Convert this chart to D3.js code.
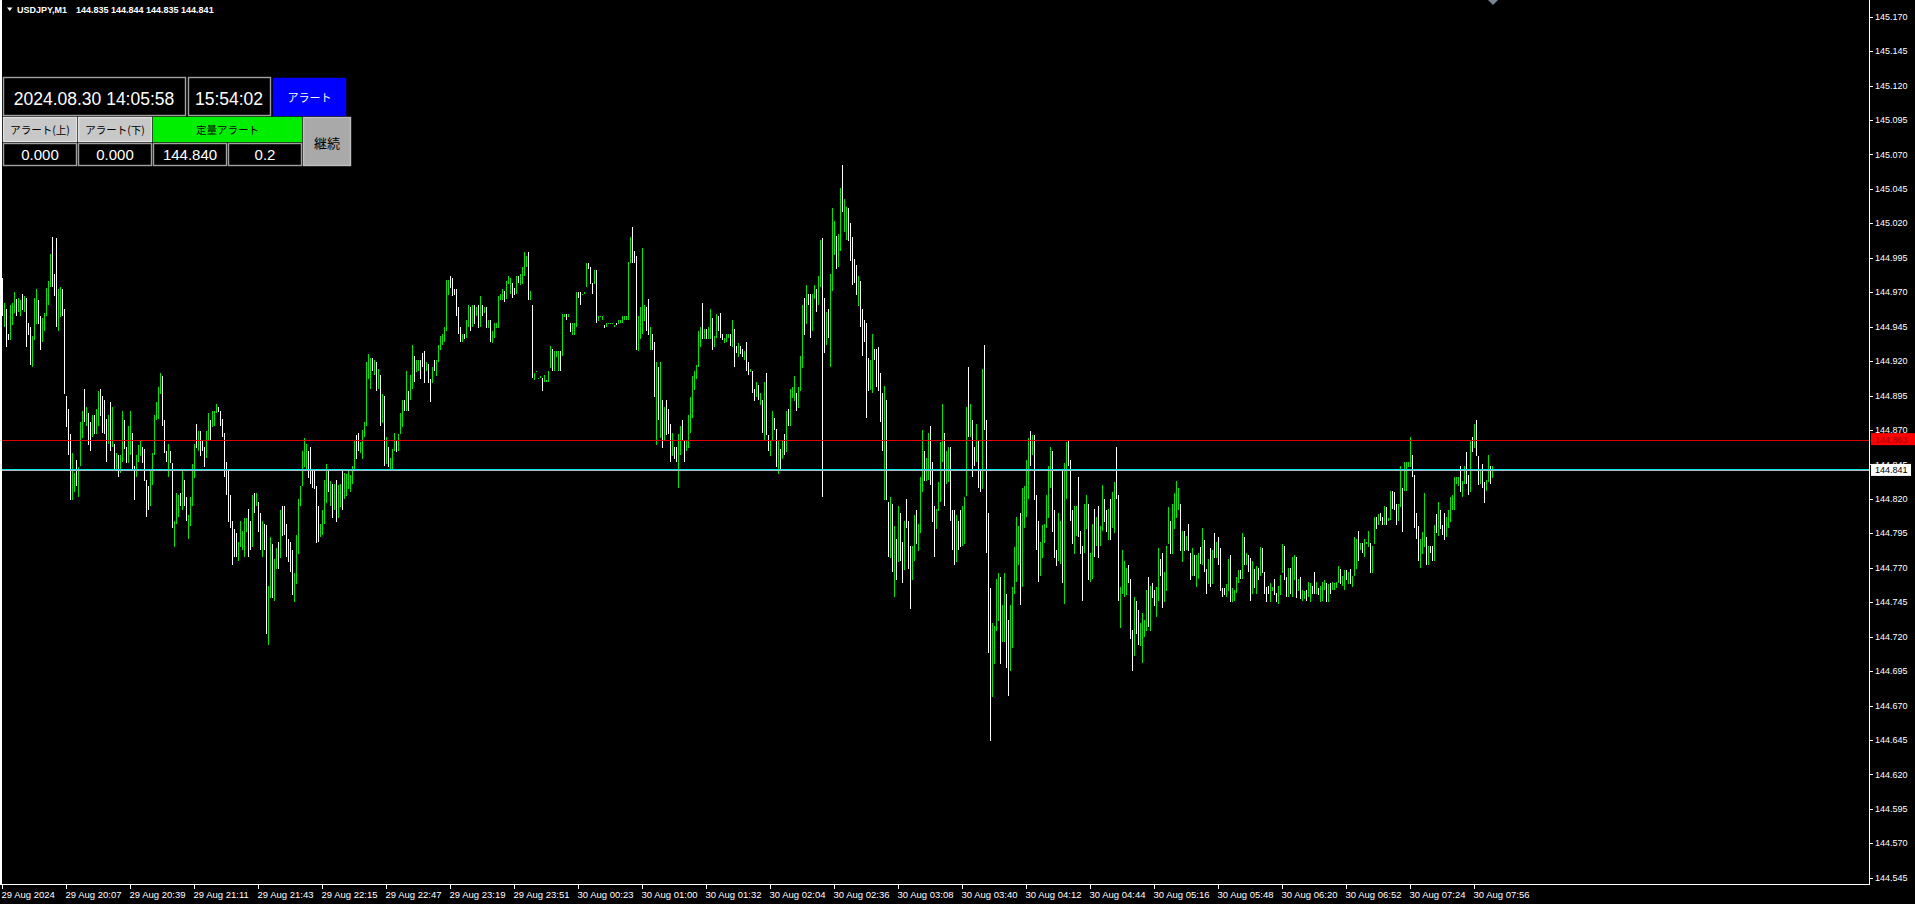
<!DOCTYPE html>
<html>
<head>
<meta charset="utf-8">
<script src="https://cdn.jsdelivr.net/npm/d3@7"></script>
<style>
  html, body { margin: 0; padding: 0; background: #000; overflow: hidden; }
  svg { display: block; }
</style>
</head>
<body>
<div id="chart"></div>
<script>
// ---------------- DATA ----------------
// Price of each M1 bar, written as points above 144.000 (price = 144 + pts / 1000)
const priceBase = 144;
const barHighs = [
  980,962,958,940,961,962,970,965,966,964, 969,967,966,948,945,938,966,972,964,953,
  951,955,973,978,998,1010,983,1009,972,974, 972,958,895,885,867,853,839,848,843,876,
  884,900,887,882,876,881,881,885,898,900, 895,892,878,881,890,887,860,853,852,852,
  884,877,858,873,884,868,844,852,859,863, 858,856,834,829,842,853,881,890,901,911,
  909,877,855,860,855,846,804,824,823,824, 842,834,821,808,821,845,860,874,869,869,
  863,858,869,882,877,884,884,889,887,884, 878,868,847,841,823,804,798,795,789,804,
  797,806,806,813,804,823,824,824,818,810, 804,802,801,757,792,787,776,784,789,812,
  815,815,802,791,789,783,766,794,820,829, 855,864,860,855,858,842,842,829,815,802,
  812,834,845,842,833,831,831,834,830,831, 841,839,838,842,837,844,863,866,868,861,
  870,876,919,925,922,922,921,919,914,910, 896,895,865,858,850,856,868,863,867,882,
  892,892,913,898,910,932,924,921,921,921, 926,927,919,918,907,916,921,921,932,938,
  940,945,979,979,982,980,972,972,959,945, 940,940,950,961,959,961,961,959,961,967,
  961,959,959,950,950,942,948,948,967,969, 972,971,978,982,980,977,973,982,982,983,
  988,999,996,999,971,961,911,913,908,909, 908,910,906,913,931,929,927,927,927,927,
  954,954,954,954,948,948,948,970,970,970, 969,970,991,991,988,977,986,986,953,953,
  953,946,948,948,948,948,946,948,950,950, 953,953,953,992,1010,1017,1000,996,953,959,
  1002,961,959,965,945,940,934,919,916,919, 892,887,892,885,874,868,858,858,867,873,
  877,863,863,881,894,909,913,917,942,945, 962,943,943,945,958,951,938,954,953,955,
  940,937,940,940,940,950,943,931,933,931, 929,927,934,919,914,913,900,905,903,897,
  892,905,911,866,863,884,879,871,863,856, 863,867,884,885,900,901,909,897,901,924,
  961,966,975,969,969,969,975,972,982,1008, 1009,966,956,958,983,1031,1022,1011,1012,1046,
  1062,1038,1032,1031,1020,1010,994,990,982,978, 958,950,948,922,921,940,929,929,930,911,
  897,902,892,818,821,816,800,791,815,810, 789,804,820,804,786,786,808,812,802,836,
  870,855,850,868,873,847,815,813,832,861, 889,868,855,858,858,812,812,808,804,812,
  815,821,887,916,889,877,858,874,862,840, 914,932,877,810,755,730,728,762,766,763,
  743,766,751,732,743,756,785,807,800,810, 828,829,848,864,869,866,866,823,804,789,
  801,802,823,844,858,855,812,783,810,804, 840,846,861,863,848,812,815,815,836,797,
  786,816,823,816,781,802,813,807,815,800, 830,820,812,813,820,825,832,858,823,756,
  783,775,770,772,762,725,749,746,739,730, 737,732,754,763,757,759,754,756,784,776,
  781,767,786,814,804,816,824,833,828,816, 797,797,793,802,781,784,779,779,781,785,
  799,790,769,776,784,783,795,789,792,784, 755,755,758,776,779,755,754,763,768,768,
  795,792,781,779,777,775,769,771,770,785, 784,767,756,757,759,756,762,752,757,765,
  787,786,763,770,770,778,779,778,762,763, 754,753,754,760,759,757,767,760,755,757,
  760,761,759,758,759,760,759,760,771,769, 764,768,768,767,769,764,792,791,797,788,
  788,791,789,797,788,786,807,807,809,810, 807,815,814,806,826,826,825,816,816,844,
  828,847,847,847,865,852,837,810,800,791, 796,824,792,786,786,786,801,809,818,812,
  801,810,807,812,821,823,836,836,836,844, 833,844,854,837,863,865,874,877,851,842,
  845,832,834,852,844,844
];
const barLows = [
  953,945,930,935,935,946,955,953,956,953, 957,956,930,939,917,916,935,947,947,928,
  934,942,953,961,974,974,967,945,942,952, 953,896,872,852,819,819,825,829,821,844,
  864,876,873,859,855,865,867,867,873,880, 868,867,847,860,855,858,841,842,836,839,
  847,856,846,846,852,840,819,836,847,851, 846,833,807,812,815,830,852,877,878,896,
  873,853,847,836,846,799,785,802,807,815, 812,815,804,791,800,815,835,857,855,851,
  855,843,850,862,862,872,873,882,883,873, 865,836,823,803,799,772,778,778,775,785,
  783,778,796,778,783,785,810,815,796,783, 778,783,722,714,748,748,746,769,769,777,
  793,794,778,774,767,750,745,758,780,815, 829,843,842,835,831,828,827,788,789,792,
  794,802,817,825,815,806,812,803,806,814, 812,820,822,827,825,831,841,849,855,853,
  849,865,873,907,900,913,910,898,900,873, 875,844,845,843,841,841,855,854,855,867,
  872,884,884,884,892,900,905,912,913,907, 916,904,913,904,890,904,913,909,919,928,
  932,934,942,968,973,967,968,953,940,934, 934,936,937,945,942,945,947,953,944,945,
  953,955,944,944,934,933,937,944,944,964, 964,963,965,976,969,966,968,969,977,975,
  976,982,988,964,964,908,906,912,907,908, 898,905,905,905,915,913,913,923,913,913,
  924,952,950,952,941,939,939,945,966,961, 968,969,974,987,976,969,976,948,949,952,
  950,944,945,947,947,947,945,946,947,948, 948,950,950,950,991,991,991,928,927,936,
  940,949,942,939,928,928,894,859,877,864, 857,863,866,867,847,851,849,847,828,852,
  862,847,855,857,868,879,899,907,916,930, 936,936,936,936,936,928,930,937,942,937,
  935,933,934,937,931,930,916,926,923,925, 923,921,913,910,912,897,891,894,892,888,
  868,863,866,855,851,862,870,843,838,841, 849,852,854,873,873,893,891,884,886,898,
  915,939,947,961,937,942,965,956,961,974, 821,926,932,937,916,971,997,987,988,1000,
  1028,1014,1008,1007,993,975,977,968,960,945, 924,934,879,898,899,897,921,901,898,876,
  855,819,819,778,777,767,749,761,774,775, 759,768,799,769,740,761,775,787,782,795,
  825,833,833,834,830,803,778,798,811,818, 847,815,831,832,804,783,772,774,783,785,
  786,787,822,865,865,836,844,847,828,825, 827,870,781,708,644,676,700,724,731,700,
  716,716,697,677,695,712,751,760,772,743, 756,799,807,820,844,852,819,783,760,764,
  777,788,799,806,828,796,777,771,775,773, 759,744,820,844,804,787,780,793,792,780,
  746,781,798,761,760,762,778,786,777,786, 797,803,796,790,790,799,795,820,746,726,
  751,749,750,759,718,695,706,722,714,713, 701,720,724,727,724,748,742,734,746,764,
  741,745,753,787,780,780,798,806,812,782, 774,782,783,782,761,764,764,756,762,773,
  772,767,751,758,756,758,777,777,772,753, 749,750,749,753,745,745,746,752,759,762,
  762,772,772,767,746,751,755,751,761,764, 766,751,745,751,745,753,750,745,744,750,
  766,761,749,749,751,749,761,748,753,747, 746,747,746,749,745,751,751,751,750,745,
  746,754,745,745,751,754,754,755,759,758, 757,754,761,758,758,756,764,769,775,783,
  781,778,787,785,766,766,787,798,801,804, 801,801,801,804,805,813,812,801,804,814,
  796,826,826,843,843,836,799,791,775,770, 780,785,772,772,781,775,775,795,793,798,
  794,790,792,799,803,812,812,831,829,825, 821,831,831,823,825,854,857,851,830,831,
  828,817,826,832,831,835
];
// G = up bar (green), W = down bar (white)
const barDirs = (
  "WGWWGGGWGG" + "WGWWWGGGWW" + "GGGGGWWWGG" + "WWWWWGGWGG" + "GWGWWGWGGW" +
  "WWWGWGWGWG" + "GWWGGWWGGG" + "WWWWGGGGGG" + "WWWGWWGGGW" + "GWWGGGGWGW" +
  "WWGGWGGGWW" + "WWWWWWWWGG" + "GGGWWGWGWW" + "GWWGGWGGWG" + "WWWWWWGGGG" +
  "GGGWWWWWWG" + "GGGWGWGWGG" + "WGGGGGGWWG" + "GGGGGWGWGW" + "GWGWGGGWGG" +
  "GWGWGGWGGW" + "WWGWWGWGGG" + "GGGGWWWWWW" + "GWGGWGWGWG" + "WGWGWGGGGG" +
  "GWGGGWWGWG" + "GGGWGWGGGG" + "WGGGGWGGGW" + "GGWGWGGGWW" + "GGGWWWGWGG" +
  "GWGGGGGWGG" + "GGGGGWWWGG" + "GGWWGWWGWG" + "WGWWWGWWGG" + "WWGGGGGGGG" +
  "WGWGGWGGWW" + "WGGGWGWWGW" + "WGWWGWWGWG" + "WGWWGGWWGW" + "GWGWGGGWGG" +
  "GWGWWGGWGG" + "WWGWGGGWGG" + "WGGWWWWWGW" + "WWWWGGWWWW" + "WGWWGWGWGW" +
  "WGWWWGGWGG" + "GWGGWWWGGG" + "GWGGWWWGWW" + "GGGWGWWGWW" + "GWWWWGGGGW" +
  "GGWWGGGGGW" + "GGGGWGWWWG" + "GGGGGWWWGG" + "WGGWWWGGWW" + "WGGWGGWGWG" +
  "GWWGWGGWWG" + "GGGWWWGWWG" + "GGGWGWWGGW" + "WGGGWGGGGW" + "GWGWWGWGGW" +
  "GWWGWGWGWW" + "WWGGWGGGGW" + "GWGWWGWGWG" + "WWWWGGWWGG" + "GWWGWGGWGW" +
  "GGWGGWWGWG" + "GGWGWGGGGW" + "GGWGWGGGWG" + "WGGGWGGWGW" + "WGWGGWWWGG" +
  "WGGGGWWWWG" + "GGWGWWGWGW" + "WWGGGGGGGW" + "GGWWGWGWWG" + "WWGGWG"
).split("");

const yTickLabels = ["145.170","145.145","145.120","145.095","145.070","145.045","145.020",
  "144.995","144.970","144.945","144.920","144.895","144.870","144.845","144.820","144.795",
  "144.770","144.745","144.720","144.695","144.670","144.645","144.620","144.595","144.570","144.545"];
const xTickLabels = ["29 Aug 2024","29 Aug 20:07","29 Aug 20:39","29 Aug 21:11","29 Aug 21:43",
  "29 Aug 22:15","29 Aug 22:47","29 Aug 23:19","29 Aug 23:51","30 Aug 00:23","30 Aug 01:00",
  "30 Aug 01:32","30 Aug 02:04","30 Aug 02:36","30 Aug 03:08","30 Aug 03:40","30 Aug 04:12",
  "30 Aug 04:44","30 Aug 05:16","30 Aug 05:48","30 Aug 06:20","30 Aug 06:52","30 Aug 07:24","30 Aug 07:56"];
const barsPerLabel = 32;

const symbolText = "USDJPY,M1";
const lastOHLC = ["144.835","144.844","144.835","144.841"];
const alertLinePrice = 144.863;
const bidPrice = 144.841;

const panelDate = "2024.08.30 14:05:58";
const panelTime = "15:54:02";
const panelButtons = ["アラート(上)", "アラート(下)", "定量アラート"];
const panelValues = ["0.000", "0.000", "144.840", "0.2"];

// ---------------- DRAW ----------------
const W = 1915, H = 904;
const plotRight = 1869, plotBottom = 884;
const svg = d3.select("#chart").append("svg").attr("width", W).attr("height", H)
  .style("background", "#000");

const N = barHighs.length;
const toPrice = v => priceBase + v / 1000;
const bars = d3.range(N).map(i => ({ i, hi: toPrice(barHighs[i]), lo: toPrice(barLows[i]), up: barDirs[i] === "G" }));

const x = d3.scaleLinear().domain([0, N - 1]).range([2, 2 + 2 * (N - 1)]);
const y = d3.scaleLinear().domain([144.545, 145.170]).range([877.7, 16.7]);

const font = "'Liberation Sans', Arial, sans-serif";
const cjk = "'Noto Sans CJK JP', 'Noto Sans', sans-serif";

// bars
svg.append("g").attr("shape-rendering", "crispEdges")
  .selectAll("rect").data(bars).join("rect")
  .attr("x", d => x(d.i))
  .attr("y", d => Math.round(y(d.hi)))
  .attr("width", 1)
  .attr("height", d => Math.max(1, Math.round(y(d.lo)) - Math.round(y(d.hi))))
  .attr("fill", d => d.up ? "#00e600" : "#ffffff");

// horizontal lines
const lines = svg.append("g").attr("shape-rendering", "crispEdges");
lines.append("rect").attr("x", 0).attr("width", plotRight).attr("height", 1)
  .attr("y", Math.round(y(alertLinePrice))).attr("fill", "#e00000");
lines.append("rect").attr("x", 0).attr("width", plotRight).attr("height", 1)
  .attr("y", Math.round(y(bidPrice)) - 1).attr("fill", "#00e8f0");
lines.append("rect").attr("x", 0).attr("width", plotRight).attr("height", 1)
  .attr("y", Math.round(y(bidPrice))).attr("fill", "#b8b8b8");

// frame
const frame = svg.append("g").attr("shape-rendering", "crispEdges").attr("fill", "#fff");
frame.append("rect").attr("x", 0).attr("y", 0).attr("width", 1.6).attr("height", plotBottom + 1);
frame.append("rect").attr("x", plotRight).attr("y", 0).attr("width", 1).attr("height", plotBottom + 1);
frame.append("rect").attr("x", 0).attr("y", plotBottom).attr("width", plotRight + 1).attr("height", 1);

// y axis
const yAx = svg.append("g");
yTickLabels.forEach(lbl => {
  const yy = y(+lbl);
  yAx.append("rect").attr("x", plotRight + 1).attr("y", Math.round(yy)).attr("width", 3).attr("height", 1)
    .attr("fill", "#fff").attr("shape-rendering", "crispEdges");
  yAx.append("text").attr("x", 1875).attr("y", yy).attr("dy", "0.35em")
    .attr("fill", "#fff").attr("font-family", font).attr("font-size", 9).text(lbl);
});

// price labels on axis
const redY = y(alertLinePrice);
svg.append("rect").attr("x", plotRight + 2).attr("y", redY - 6.5).attr("width", W - plotRight - 2).attr("height", 12)
  .attr("fill", "#ff0000");
svg.append("text").attr("x", 1875).attr("y", redY).attr("dy", "0.35em").attr("fill", "#a00000")
  .attr("font-family", font).attr("font-size", 9).text(alertLinePrice.toFixed(3));
const bidY = y(bidPrice);
svg.append("rect").attr("x", plotRight + 2).attr("y", bidY - 6).attr("width", W - plotRight - 6).attr("height", 12)
  .attr("fill", "#ffffff");
svg.append("text").attr("x", 1875).attr("y", bidY).attr("dy", "0.35em").attr("fill", "#000")
  .attr("font-family", font).attr("font-size", 9).text(bidPrice.toFixed(3));

// x axis
const xAx = svg.append("g");
xTickLabels.forEach((lbl, k) => {
  const xx = Math.round(x(k * barsPerLabel));
  xAx.append("rect").attr("x", xx).attr("y", plotBottom).attr("width", 1).attr("height", 5)
    .attr("fill", "#fff").attr("shape-rendering", "crispEdges");
  xAx.append("text").attr("x", xx - 0.5).attr("y", 897.5).attr("fill", "#fff")
    .attr("font-family", font).attr("font-size", 9.5).text(lbl);
});

// header
svg.append("path").attr("d", "M7,7.5 L12.5,7.5 L9.75,11 Z").attr("fill", "#fff");
svg.append("text").attr("x", 17).attr("y", 12.5).attr("fill", "#fff").attr("font-family", font)
  .attr("font-size", 9).attr("font-weight", "bold").text(symbolText);
svg.append("text").attr("x", 76).attr("y", 12.5).attr("fill", "#fff").attr("font-family", font)
  .attr("font-size", 9).attr("font-weight", "bold").text(lastOHLC.join(" "));

// shift marker
svg.append("path").attr("d", "M1488,0 L1498,0 L1493,5 Z").attr("fill", "#7a8696");

// ---------- panel ----------
const panel = svg.append("g");
function box(x0, y0, w, h, fill, stroke) {
  panel.append("rect").attr("x", x0 + 0.5).attr("y", y0 + 0.5).attr("width", w - 1).attr("height", h - 1)
    .attr("fill", fill).attr("stroke", stroke).attr("stroke-width", 1.4);
}
function label(cx, by, txt, size, color, fam) {
  panel.append("text").attr("x", cx).attr("y", by).attr("text-anchor", "middle")
    .attr("fill", color).attr("font-family", fam).attr("font-size", size).text(txt);
}
box(3, 77, 183, 39, "#000", "#a0a0a0");
label(94, 104.5, panelDate, 17.5, "#fff", font);
box(188, 77, 83, 39, "#000", "#a0a0a0");
label(229, 104.5, panelTime, 17.5, "#fff", font);
box(273, 78, 73, 38, "#0000ff", "#0000ff");
label(309.5, 102, "アラート", 11, "#fff", cjk);

box(3, 117, 74, 25, "#c8c8c8", "#e0e0e0");
label(40, 134, panelButtons[0], 10.5, "#000", cjk);
box(78, 117, 74, 25, "#c8c8c8", "#e0e0e0");
label(115, 134, panelButtons[1], 10.5, "#000", cjk);
box(153, 117, 149, 25, "#00ee00", "#00ee00");
label(227.5, 134, panelButtons[2], 10.5, "#000", cjk);
box(303, 117, 48, 49, "#a9a9a9", "#c0c0c0");
label(327, 148, "継続", 13, "#000", cjk);

box(3, 143, 74, 23, "#000", "#a0a0a0");
label(40, 160, panelValues[0], 15, "#fff", font);
box(78, 143, 74, 23, "#000", "#a0a0a0");
label(115, 160, panelValues[1], 15, "#fff", font);
box(153, 143, 74, 23, "#000", "#a0a0a0");
label(190, 160, panelValues[2], 15, "#fff", font);
box(228, 143, 74, 23, "#000", "#a0a0a0");
label(265, 160, panelValues[3], 15, "#fff", font);
</script>
</body>
</html>
